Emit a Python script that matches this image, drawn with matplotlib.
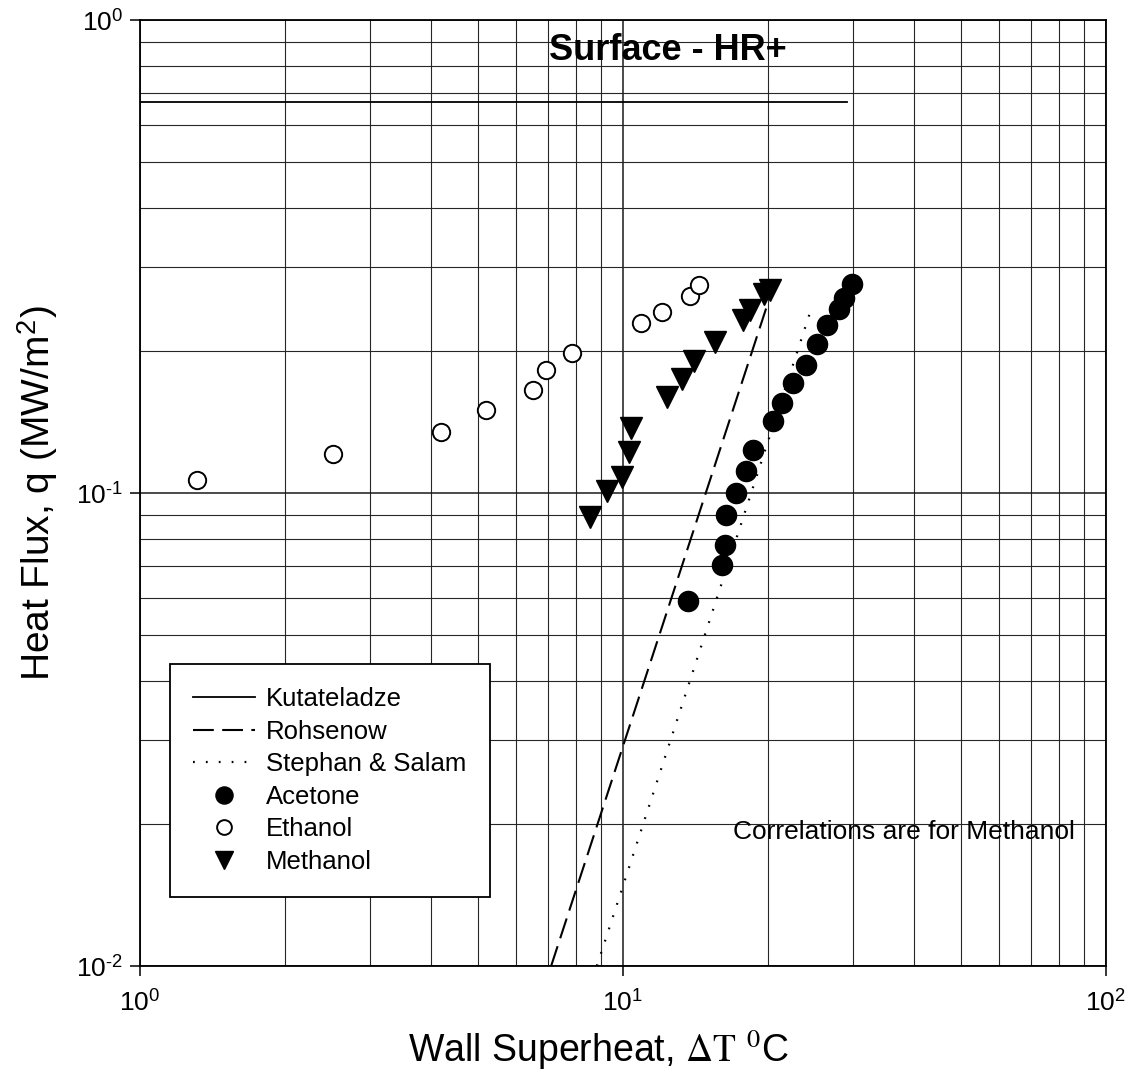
import matplotlib
matplotlib.use('Agg')
import matplotlib.pyplot as plt

plt.rcParams['font.family'] = ['Liberation Sans', 'DejaVu Sans']
plt.rcParams['mathtext.fontset'] = 'stix'

# correlation curves (methanol)
kutateladze_dt = [1.0, 29.1]
kutateladze_q = [0.67, 0.67]
rohsenow_dt = [7.1, 19.9]
rohsenow_q = [0.01, 0.25]
stephan_dt = [8.83, 24.5]
stephan_q = [0.01, 0.244]

# measured boiling data
acetone_dt = [13.63, 16.03, 16.27, 16.34, 17.14, 17.97, 18.58, 20.44, 21.34,
              22.49, 23.92, 25.22, 26.45, 28.0, 28.69, 29.79]
acetone_q = [0.0591, 0.0705, 0.0776, 0.0898, 0.1000, 0.1113, 0.1233, 0.1420,
             0.1549, 0.1709, 0.1865, 0.2065, 0.2266, 0.2449, 0.2584, 0.2766]

ethanol_dt = [1.31, 2.51, 4.20, 5.20, 6.51, 6.93, 7.84, 10.9, 12.05, 13.76, 14.37]
ethanol_q = [0.1065, 0.121, 0.1346, 0.1498, 0.165, 0.182, 0.1977, 0.2288,
             0.2414, 0.261, 0.2752]

methanol_dt = [8.55, 9.27, 9.95, 10.29, 10.39, 12.34, 13.25, 14.03, 15.5,
               17.71, 18.32, 19.59, 20.15]
methanol_q = [0.0890, 0.1010, 0.1081, 0.1221, 0.1372, 0.1595, 0.1742, 0.1901,
              0.2086, 0.2321, 0.2437, 0.2634, 0.2687]

# decade ticks, exponent written with a plain hyphen
x_ticks = [1, 10, 100]
x_exps = ['0', '1', '2']
y_ticks = [0.01, 0.1, 1]
y_exps = ['-2', '-1', '0']


def decade_label(e):
    return r'10$^{\mathdefault{%s}}$' % e.replace('-', r'\text{-}')


fig = plt.figure(figsize=(11.39, 10.86), dpi=100)
ax = fig.add_axes([0.1229, 0.1105, 0.8481, 0.8711])
ax.set_xscale('log')
ax.set_yscale('log')
ax.set_xlim(1, 100)
ax.set_ylim(0.01, 1)
ax.set_xticks(x_ticks, labels=[decade_label(e) for e in x_exps])
ax.set_yticks(y_ticks, labels=[decade_label(e) for e in y_exps])

ax.grid(True, which='major', color='0.1', lw=1.1)
ax.grid(True, which='minor', color='0.15', lw=0.8)
ax.set_axisbelow(True)

ax.plot(kutateladze_dt, kutateladze_q, color='k', lw=1.3, label='Kutateladze')
ax.plot(rohsenow_dt, rohsenow_q, color='k', lw=1.5, dashes=(10, 4), label='Rohsenow')
ax.plot(stephan_dt, stephan_q, color='k', lw=1.6, dashes=(0.8, 5),
        label='Stephan & Salam')
ax.plot(acetone_dt, acetone_q, 'o', ms=14.5, mfc='k', mec='k', label='Acetone')
ax.plot(ethanol_dt, ethanol_q, 'o', ms=12.5, mfc='white', mec='k', mew=1.4,
        label='Ethanol')
ax.plot(methanol_dt, methanol_q, 'v', ms=15.5, color='k', label='Methanol')

leg = ax.legend(loc='upper left', bbox_to_anchor=(0.031, 0.319), borderaxespad=0,
                fontsize=18.5, frameon=True, fancybox=False, edgecolor='k',
                framealpha=1, handlelength=2.4, handletextpad=0.45,
                labelspacing=0.33, borderpad=0.9, markerscale=0.85)
leg.get_frame().set_linewidth(1.3)

ax.text(0.546, 0.968, 'Surface - HR+', transform=ax.transAxes, ha='center',
        va='center', fontsize=26, fontweight='bold')
ax.text(0.791, 0.1416, 'Correlations are for Methanol', transform=ax.transAxes,
        ha='center', va='center', fontsize=19)

ax.tick_params(which='major', direction='out', length=7, width=1.1,
               labelsize=19)
ax.tick_params(axis='x', pad=9)
ax.tick_params(axis='y', pad=5)
ax.tick_params(which='minor', length=0)
for s in ax.spines.values():
    s.set_linewidth(1.3)

fig.text(0.525, 0.033, r'Wall Superheat, $\Delta\mathrm{T}$ $^{0}$C',
         ha='center', va='center', fontsize=27)
fig.text(0.033, 0.546, r'Heat Flux, q (MW/m$^{\mathdefault{2}}$)',
         ha='center', va='center', rotation=90, fontsize=28)

fig.savefig('out.png', dpi=100)
